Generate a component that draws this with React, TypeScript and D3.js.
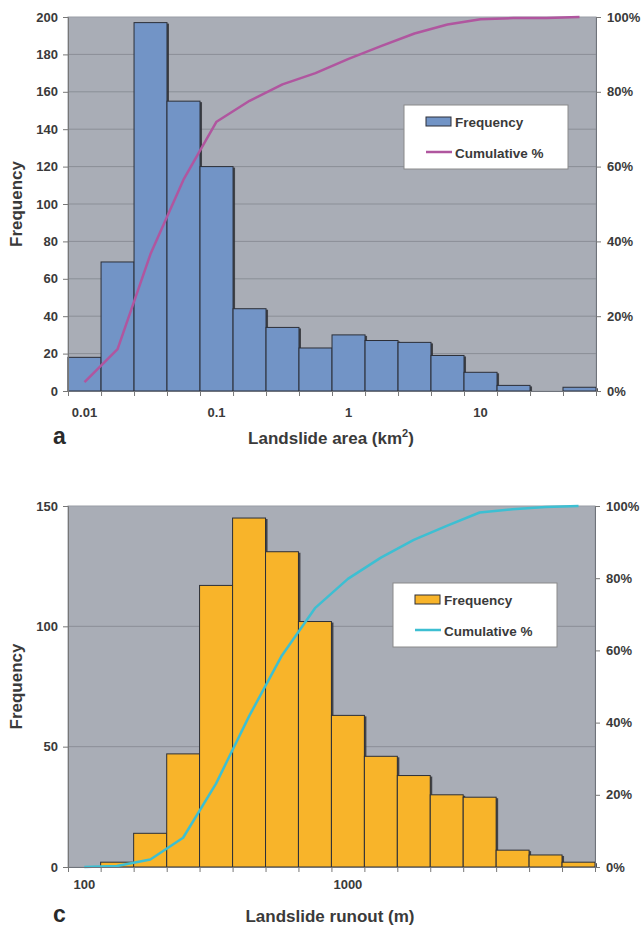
import React, { useEffect, useRef } from "react";
import * as d3 from "d3";

// panel a - landslide area (km2), bin centres (4 bins per decade)
const areaBins = [0.01, 0.0178, 0.0316, 0.0562, 0.1, 0.178, 0.316, 0.562, 1, 1.78, 3.16, 5.62, 10, 17.8, 31.6, 56.2];
const areaFreq = [18, 69, 197, 155, 120, 44, 34, 23, 30, 27, 26, 19, 10, 3, 0, 2];
const areaCum = [2.4, 11.2, 36.6, 56.5, 72, 77.6, 82, 85, 88.8, 92.3, 95.6, 98, 99.4, 99.7, 99.7, 100];
const areaLabels = [0.01, 0.1, 1, 10];

// panel c - landslide runout (m), bin centres (8 bins per decade)
const runoutBins = [100, 133, 178, 237, 316, 422, 562, 750, 1000, 1334, 1778, 2371, 3162, 4217, 5623, 7499];
const runoutFreq = [0, 2, 14, 47, 117, 145, 131, 102, 63, 46, 38, 30, 29, 7, 5, 2];
const runoutCum = [0, 0.3, 2.1, 8.1, 23.1, 41.8, 58.6, 71.7, 79.8, 85.7, 90.6, 94.5, 98.2, 99.1, 99.7, 100];
const runoutLabels = [100, 1000];

const pctTicks = [0, 20, 40, 60, 80, 100];

const FONT = "'Liberation Sans', Arial, Helvetica, sans-serif";
const TXT = "#3a3a3a";

const drawPanel = (svg, cfg) => {
  const { x0, x1, y0, y1, bins, freq, cum, labels, yMax, yStep, barColor, lineColor } = cfg;
  const g = svg.append("g");

  // bin edges as geometric means of neighbouring centres
  const edges = [bins[0] / Math.sqrt(bins[1] / bins[0])];
  for (let i = 1; i < bins.length; i++) edges.push(Math.sqrt(bins[i - 1] * bins[i]));
  const n = bins.length;
  edges.push(bins[n - 1] * Math.sqrt(bins[n - 1] / bins[n - 2]));

  const x = d3.scaleLog().domain([edges[0], edges[n]]).range([x0, x1]);
  const y = d3.scaleLinear().domain([0, yMax]).range([y1, y0]);
  const yPct = d3.scaleLinear().domain([0, 100]).range([y1, y0]);

  // plot background
  g.append("rect")
    .attr("x", x0).attr("y", y0)
    .attr("width", x1 - x0).attr("height", y1 - y0)
    .attr("fill", "#a9adb6")
    .attr("stroke", "#9a9ea6");

  // gridlines
  const yTicks = d3.range(0, yMax + 1, yStep);
  g.append("g")
    .selectAll("line")
    .data(yTicks.filter((d) => d > 0 && d < yMax))
    .enter()
    .append("line")
    .attr("x1", x0).attr("x2", x1)
    .attr("y1", (d) => y(d)).attr("y2", (d) => y(d))
    .attr("stroke", "#8b8f97")
    .attr("stroke-width", 1);

  // bars (with a little drop shadow like the original)
  const barData = freq.map((f, i) => ({ f, a: edges[i], b: edges[i + 1] })).filter((d) => d.f > 0);
  g.append("g")
    .selectAll("rect")
    .data(barData)
    .enter()
    .append("rect")
    .attr("x", (d) => x(d.a) + 2)
    .attr("y", (d) => y(d.f) + 1)
    .attr("width", (d) => x(d.b) - x(d.a))
    .attr("height", (d) => y1 - y(d.f) - 1)
    .attr("fill", "#2f3036")
    .attr("opacity", 0.85);
  g.append("g")
    .selectAll("rect")
    .data(barData)
    .enter()
    .append("rect")
    .attr("x", (d) => x(d.a))
    .attr("y", (d) => y(d.f))
    .attr("width", (d) => x(d.b) - x(d.a))
    .attr("height", (d) => y1 - y(d.f))
    .attr("fill", barColor)
    .attr("stroke", "#2c2f38")
    .attr("stroke-width", 1);

  // cumulative line
  const line = d3.line().x((d) => x(d[0])).y((d) => yPct(d[1]));
  g.append("path")
    .datum(bins.map((b, i) => [b, cum[i]]))
    .attr("d", line)
    .attr("fill", "none")
    .attr("stroke", lineColor)
    .attr("stroke-width", 2.5)
    .attr("stroke-linejoin", "round");

  // left axis
  const left = g.append("g")
    .attr("transform", `translate(${x0},0)`)
    .call(d3.axisLeft(y).tickValues(yTicks).tickSize(5).tickPadding(5));
  left.select(".domain").attr("stroke", "#777");
  left.selectAll(".tick line").attr("stroke", "#777");
  left.selectAll("text")
    .attr("font-family", FONT).attr("font-size", 13).attr("font-weight", "bold").attr("fill", TXT);

  // right axis
  const right = g.append("g")
    .attr("transform", `translate(${x1},0)`)
    .call(d3.axisRight(yPct).tickValues(pctTicks).tickFormat((d) => d + "%").tickSize(5).tickPadding(6));
  right.select(".domain").attr("stroke", "#6f737b");
  right.selectAll(".tick line").attr("stroke", "#777");
  right.selectAll("text")
    .attr("font-family", FONT).attr("font-size", 13).attr("font-weight", "bold").attr("fill", TXT);

  // bottom axis: tick marks on bin edges
  const bottom = g.append("g")
    .attr("transform", `translate(0,${y1})`)
    .call(d3.axisBottom(x).tickValues(edges).tickSize(5).tickFormat(() => ""));
  bottom.select(".domain").attr("stroke", "#6f737b");
  bottom.selectAll(".tick line").attr("stroke", "#777");

  // decade labels under bin centres
  g.append("g")
    .selectAll("text")
    .data(labels)
    .enter()
    .append("text")
    .attr("x", (d) => x(d))
    .attr("y", cfg.labelY)
    .attr("text-anchor", "middle")
    .attr("font-family", FONT).attr("font-size", 13).attr("font-weight", "bold").attr("fill", TXT)
    .text((d) => d);

  // y title
  g.append("text")
    .attr("transform", `translate(${22},${(y0 + y1) / 2}) rotate(-90)`)
    .attr("text-anchor", "middle")
    .attr("font-family", FONT).attr("font-size", 17).attr("font-weight", "bold").attr("fill", TXT)
    .text("Frequency");

  // x title
  const title = g.append("text")
    .attr("x", cfg.titleX)
    .attr("y", cfg.titleY)
    .attr("text-anchor", "middle")
    .attr("font-family", FONT).attr("font-size", 17).attr("font-weight", "bold").attr("fill", TXT);
  if (cfg.superscript) {
    title.append("tspan").text(cfg.title);
    title.append("tspan").attr("dy", -7).attr("font-size", 11).text(cfg.superscript);
    title.append("tspan").attr("dy", 7).text(")");
  } else {
    title.text(cfg.title);
  }

  // panel letter
  g.append("text")
    .attr("x", 53)
    .attr("y", cfg.titleY)
    .attr("font-family", FONT).attr("font-size", 23).attr("font-weight", "bold").attr("fill", "#2a2a2a")
    .text(cfg.letter);

  // legend
  const { lx, ly } = cfg;
  const legend = g.append("g").attr("transform", `translate(${lx},${ly})`);
  legend.append("rect")
    .attr("width", 164).attr("height", 64)
    .attr("fill", "#ffffff").attr("stroke", "#8a8a8a");
  legend.append("rect")
    .attr("x", 22).attr("y", 12).attr("width", 25).attr("height", 9)
    .attr("fill", barColor).attr("stroke", "#2c2f38");
  legend.append("text")
    .attr("x", 51).attr("y", 22)
    .attr("font-family", FONT).attr("font-size", 13.5).attr("font-weight", "bold").attr("fill", TXT)
    .text("Frequency");
  legend.append("line")
    .attr("x1", 22).attr("x2", 48).attr("y1", 47).attr("y2", 47)
    .attr("stroke", lineColor).attr("stroke-width", 2.5);
  legend.append("text")
    .attr("x", 51).attr("y", 53)
    .attr("font-family", FONT).attr("font-size", 13.5).attr("font-weight", "bold").attr("fill", TXT)
    .text("Cumulative %");
};

const App = () => {
  const ref = useRef(null);

  useEffect(() => {
    const svg = d3.select(ref.current);
    svg.selectAll("*").remove();

    drawPanel(svg, {
      x0: 68, x1: 596, y0: 17, y1: 391,
      bins: areaBins, freq: areaFreq, cum: areaCum, labels: areaLabels,
      yMax: 200, yStep: 20,
      barColor: "#7294c6", lineColor: "#b0569f",
      labelY: 417, titleX: 331, titleY: 444,
      title: "Landslide area (km", superscript: "2", letter: "a",
      lx: 404, ly: 105,
    });

    drawPanel(svg, {
      x0: 68, x1: 595, y0: 506, y1: 867,
      bins: runoutBins, freq: runoutFreq, cum: runoutCum, labels: runoutLabels,
      yMax: 150, yStep: 50,
      barColor: "#f8b42a", lineColor: "#3dbfd2",
      labelY: 889, titleX: 330, titleY: 922,
      title: "Landslide runout (m)", superscript: null, letter: "c",
      lx: 393, ly: 583,
    });
  }, []);

  return (
    <svg
      ref={ref}
      width={642}
      height={928}
      style={{ position: "absolute", left: 0, top: 0, background: "#fff" }}
    />
  );
};

export default App;
